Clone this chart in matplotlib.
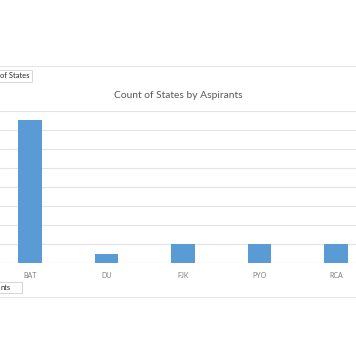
import matplotlib.pyplot as plt
from matplotlib.lines import Line2D
from matplotlib.patches import Rectangle

plt.rcParams['font.family'] = ['Lato', 'DejaVu Sans']

# pivot chart data
aspirants = ['BAT', 'DU', 'FJK', 'PYO', 'RCA']
state_counts = [15, 1, 2, 2, 2]
y_ticks = list(range(0, 17, 2))

W, H = 356, 364
fig = plt.figure(figsize=(W / 100, H / 100), dpi=100)

# plot area runs past the left and right edges of the picture
ax = fig.add_axes([-8.25 / W, (H - 263.3) / H, 382.5 / W, 152.6 / H])
ax.bar(range(len(aspirants)), state_counts, width=0.31, color='#5B9BD5', zorder=3)
ax.set_xlim(-0.5, len(aspirants) - 0.5)
ax.set_ylim(0, 16)
ax.set_yticks(y_ticks)
ax.set_yticklabels([])
ax.set_xticks(range(len(aspirants)))
ax.set_xticklabels(aspirants, fontsize=5, color='#7F7F7F')
ax.tick_params(length=0, pad=6)
ax.grid(axis='y', color='#E3E3E3', linewidth=0.8, zorder=0)
for s in ax.spines.values():
    s.set_visible(False)
ax.axhline(0, color='#D9D9D9', linewidth=0.8, zorder=2)

fig.text(178 / W, 1 - 95 / H, 'Count of States by Aspirants', ha='center', va='center',
         fontsize=7.4, color='#595959')

# separator lines of the pivot chart frame
for yp in (66, 297):
    fig.add_artist(Line2D([0, 1], [1 - yp / H] * 2, color='#E6E6E6', linewidth=0.8))

# field buttons, cut off at the left edge of the picture
fig.add_artist(Rectangle((-5 / W, 1 - 82 / H), 37 / W, 12 / H, facecolor='white',
                         edgecolor='#D0D0D0', linewidth=0.6))
fig.text(0.5 / W, 1 - 76 / H, 'of States', ha='left', va='center', fontsize=5.4, color='#262626')
fig.add_artist(Rectangle((-5 / W, 1 - 293 / H), 27 / W, 11 / H, facecolor='white',
                         edgecolor='#D0D0D0', linewidth=0.6))
fig.text(0.5 / W, 1 - 287.5 / H, 'nts', ha='left', va='center', fontsize=5.4, color='#262626')

fig.savefig('out.png', dpi=100)
